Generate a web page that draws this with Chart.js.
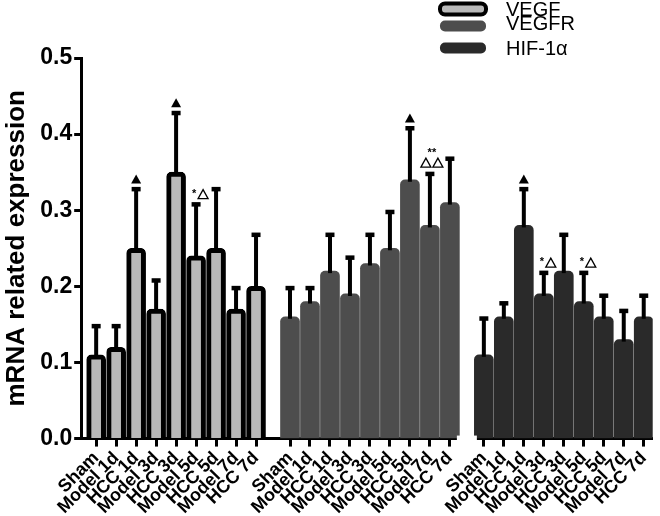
<!DOCTYPE html>
<html>
<head>
<meta charset="utf-8">
<script src="https://cdn.jsdelivr.net/npm/chart.js@4.4.1/dist/chart.umd.min.js"></script>
<style>
  html, body { margin: 0; padding: 0; background: #fff; }
  #wrap { width: 660px; height: 516px; }
</style>
</head>
<body>
<div id="wrap"><canvas id="grafico"></canvas></div>
<script>
// Dados
const categorias = ['Sham', 'Model 1d', 'HCC 1d', 'Model 3d', 'HCC 3d', 'Model 5d', 'HCC 5d', 'Model 7d', 'HCC 7d']
const series = ['VEGF', 'VEGFR', 'HIF-1α']

const vegf = [0.11, 0.12, 0.25, 0.17, 0.35, 0.24, 0.25, 0.17, 0.20]
const vegfErro = [0.04, 0.03, 0.08, 0.04, 0.08, 0.07, 0.08, 0.03, 0.07]
const vegfr = [0.16, 0.18, 0.22, 0.19, 0.23, 0.25, 0.34, 0.28, 0.31]
const vegfrErro = [0.04, 0.02, 0.05, 0.05, 0.04, 0.05, 0.07, 0.07, 0.06]
const hif = [0.11, 0.16, 0.28, 0.19, 0.22, 0.18, 0.16, 0.13, 0.16]
const hifErro = [0.05, 0.02, 0.05, 0.03, 0.05, 0.04, 0.03, 0.04, 0.03]

// marcas de significancia: up = ▲, star = *△, double = ** / △△
const marcasVegf = ['', '', 'up', '', 'up', 'star', '', '', '']
const marcasVegfr = ['', '', '', '', '', '', 'up', 'double', '']
const marcasHif = ['', '', 'up', 'star', '', 'star', '', '', '']

const yTicks = [0, 0.1, 0.2, 0.3, 0.4, 0.5]

const FONTE = "Arial, 'Liberation Sans', sans-serif"
const passoGrupo = 9.7 // inicio de cada grupo no eixo x (em larguras de barra)

function posicao(grupo, i) {
    return grupo * passoGrupo + i
}

function pontos(valores, grupo) {
    return valores.map((v, i) => ({ x: posicao(grupo, i), y: v }))
}

const xTicks = []
const xLabels = []
for (let g = 0; g < 3; g++) {
    categorias.forEach((c, i) => {
        xTicks.push(posicao(g, i))
        xLabels.push(c)
    })
}

////////////////////////// FUNÇÕES //////////////////////////////////////

function triangulo(ctx, x, base, cheio) {
    ctx.beginPath()
    ctx.moveTo(x - 5, base)
    ctx.lineTo(x + 5, base)
    ctx.lineTo(x, base - 9)
    ctx.closePath()
    if (cheio) {
        ctx.fill()
    } else {
        ctx.lineWidth = 1.3
        ctx.stroke()
    }
}

function desenhaMarca(ctx, marca, x, topo) {
    ctx.fillStyle = '#000'
    ctx.strokeStyle = '#000'
    ctx.textAlign = 'center'
    ctx.textBaseline = 'middle'
    ctx.font = 'bold 11px ' + FONTE
    if (marca === 'up') {
        triangulo(ctx, x, topo - 4, true)
    }
    if (marca === 'star') {
        ctx.fillText('*', x - 2, topo - 9)
        triangulo(ctx, x + 7, topo - 4, false)
    }
    if (marca === 'double') {
        ctx.fillText('**', x + 2, topo - 19)
        triangulo(ctx, x - 4, topo - 5, false)
        triangulo(ctx, x + 8, topo - 5, false)
    }
}

// barras de erro (so para cima) e marcas
const pluginErros = {
    id: 'erros',
    afterDatasetsDraw(chart) {
        const ctx = chart.ctx
        const escalaY = chart.scales.y
        chart.data.datasets.forEach((ds, d) => {
            const meta = chart.getDatasetMeta(d)
            meta.data.forEach((barra, i) => {
                const topo = escalaY.getPixelForValue(ds.data[i].y + ds.erro[i])
                ctx.save()
                ctx.strokeStyle = '#000'
                ctx.lineWidth = 4
                ctx.beginPath()
                ctx.moveTo(barra.x, barra.y + 2)
                ctx.lineTo(barra.x, topo + 2)
                ctx.stroke()
                ctx.fillStyle = '#000'
                ctx.fillRect(barra.x - 4.5, topo - 0.5, 9, 4.5)
                desenhaMarca(ctx, ds.marcas[i], barra.x, topo)
                ctx.restore()
            })
        })
    }
}

// quebra do eixo x entre o segundo e o terceiro grupo
const pluginQuebra = {
    id: 'quebra',
    afterDraw(chart) {
        const ctx = chart.ctx
        const escalaX = chart.scales.x
        const meio = posicao(1, categorias.length - 1) + (passoGrupo - categorias.length + 1) / 2
        const a = escalaX.getPixelForValue(meio - 0.5)
        const b = escalaX.getPixelForValue(meio + 0.5)
        ctx.save()
        ctx.fillStyle = '#fff'
        ctx.fillRect(a, chart.chartArea.bottom - 3, b - a, 7)
        ctx.restore()
    }
}

// legenda vertical no canto superior direito
const pluginLegenda = {
    id: 'legendaVertical',
    afterDraw(chart) {
        const ctx = chart.ctx
        const linhas = [9, 26, 48]
        ctx.save()
        chart.data.datasets.forEach((ds, d) => {
            const y = linhas[d]
            ctx.beginPath()
            ctx.roundRect(440, y - 5.5, 46, 11, 5)
            ctx.fillStyle = ds.backgroundColor
            ctx.fill()
            if (ds.borderWidth) {
                ctx.lineWidth = 4
                ctx.strokeStyle = ds.borderColor
                ctx.stroke()
            }
            ctx.fillStyle = '#000'
            ctx.font = '20px ' + FONTE
            ctx.textAlign = 'left'
            ctx.textBaseline = 'middle'
            ctx.fillText(ds.label, 506, d === 1 ? y - 2 : y + 1)
        })
        ctx.restore()
    }
}

//////////////////////////// GRÁFICO ///////////////////////////////////

const grafico = document.getElementById('grafico')

new Chart(grafico, {
    type: 'bar',
    data: {
        datasets: [{
            label: series[0],
            data: pontos(vegf, 0),
            erro: vegfErro,
            marcas: marcasVegf,
            backgroundColor: '#b9b9b9',
            borderColor: '#000',
            borderWidth: 5,
        }, {
            label: series[1],
            data: pontos(vegfr, 1),
            erro: vegfrErro,
            marcas: marcasVegfr,
            backgroundColor: '#4d4d4d',
            borderWidth: 0,
        }, {
            label: series[2],
            data: pontos(hif, 2),
            erro: hifErro,
            marcas: marcasHif,
            backgroundColor: '#2a2a2a',
            borderWidth: 0,
        }]
    },
    plugins: [pluginErros, pluginQuebra, pluginLegenda],
    options: {
        responsive: true,
        maintainAspectRatio: false,
        animation: false,
        grouped: false,
        barThickness: 19,
        borderRadius: { topLeft: 5, topRight: 5, bottomLeft: 0, bottomRight: 0 },
        borderSkipped: 'start',
        layout: { padding: { top: 58, right: 0, left: 1, bottom: 0 } },
        plugins: {
            legend: { display: false },
            tooltip: { enabled: false }
        },
        scales: {
            x: {
                type: 'linear',
                offset: false,
                min: -0.75,
                max: posicao(2, categorias.length - 1) + 0.45,
                afterBuildTicks: (escala) => {
                    escala.ticks = xTicks.map(v => ({ value: v }))
                },
                afterFit: (escala) => {
                    escala.height -= 3
                },
                ticks: {
                    autoSkip: false,
                    maxRotation: 45,
                    minRotation: 45,
                    padding: 1,
                    color: '#000',
                    font: { family: FONTE, size: 18, weight: 'bold' },
                    callback: (valor, indice) => xLabels[indice]
                },
                grid: {
                    offset: false,
                    drawOnChartArea: false,
                    tickLength: 8,
                    tickWidth: 3,
                    tickColor: '#000'
                },
                border: { display: true, width: 3, color: '#000' }
            },
            y: {
                min: 0,
                max: 0.5,
                afterBuildTicks: (escala) => {
                    escala.ticks = yTicks.map(v => ({ value: v }))
                },
                ticks: {
                    color: '#000',
                    padding: 2,
                    font: { family: FONTE, size: 23, weight: 'bold' },
                    callback: (valor) => valor.toFixed(1)
                },
                grid: {
                    drawOnChartArea: false,
                    tickLength: 7,
                    tickWidth: 3,
                    tickColor: '#000'
                },
                border: { display: true, width: 3, color: '#000' },
                title: {
                    display: true,
                    text: 'mRNA related expression',
                    color: '#000',
                    padding: { top: 0, bottom: 6 },
                    font: { family: FONTE, size: 26, weight: 'bold' }
                }
            }
        }
    }
})
</script>
</body>
</html>
